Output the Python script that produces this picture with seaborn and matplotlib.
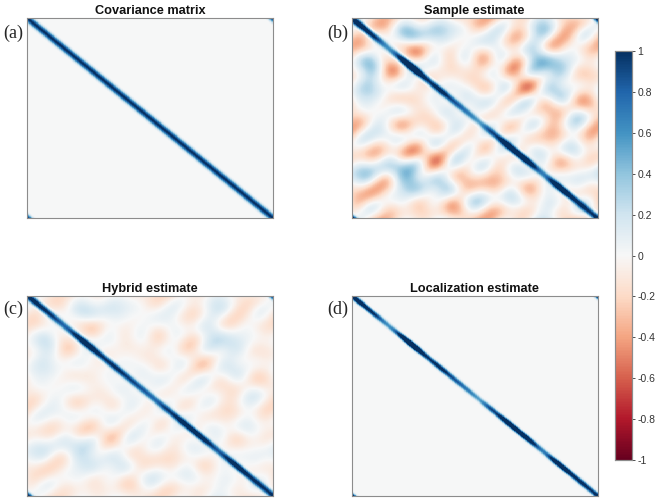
import numpy as np
import matplotlib
matplotlib.use("Agg")
import matplotlib.pyplot as plt
import seaborn as sns

sns.set_theme(style="white")
plt.rcParams['font.family'] = ['Liberation Sans', 'DejaVu Sans']
plt.rcParams['axes.unicode_minus'] = False

# --- values ------------------------------------------------------------
# correlation of the true covariance vs. lag (lag unit = 1/384 of the domain)
band_profile = [1.0, 0.99, 0.95, 0.89, 0.82, 0.72, 0.62, 0.51, 0.40,
                0.31, 0.22, 0.15, 0.10, 0.06, 0.03, 0.01, 0.0]
# localization taper vs. lag (same unit)
taper_profile = [1.0, 0.99, 0.97, 0.93, 0.88, 0.80, 0.72, 0.61, 0.50,
                 0.39, 0.28, 0.20, 0.12, 0.07, 0.03, 0.01, 0.0]
# relative amplitude of the sample variance along the diagonal (16 sections)
diag_scale = [1.15, 1.0, 0.8, 1.25, 1.15, 1.05, 0.95, 0.85,
              0.8, 1.0, 1.2, 1.15, 0.85, 1.2, 1.05, 1.0]
# sampling noise of the sample estimate, upper triangle of a 16x16 grid
noise_upper = [
    [-0.3, -0.2, 0.2, 0.05, 0.2, 0.1, -0.1, -0.3, 0.05, -0.1, 0.0, 0.3, -0.1, -0.3, 0.0],
    [0.0, 0.25, 0.2, 0.2, 0.1, 0.0, 0.1, 0.1, -0.3, 0.0, 0.15, -0.35, -0.1, 0.0],
    [-0.25, -0.35, 0.0, -0.1, 0.05, -0.1, 0.05, -0.1, 0.2, 0.0, -0.15, 0.0, -0.25],
    [0.0, 0.05, -0.15, 0.0, -0.3, 0.0, -0.35, 0.1, 0.45, 0.3, 0.05, -0.1],
    [-0.1, -0.1, -0.15, -0.1, 0.0, -0.3, 0.0, 0.1, 0.25, -0.1, -0.2],
    [0.05, 0.0, -0.2, 0.05, -0.1, -0.5, 0.1, 0.2, 0.0, -0.1],
    [0.1, 0.1, 0.0, -0.15, 0.1, -0.1, 0.15, -0.2, -0.3],
    [0.0, -0.1, 0.1, 0.0, -0.2, -0.25, 0.05, -0.1],
    [0.0, -0.2, 0.1, -0.1, -0.2, 0.2, -0.2],
    [0.05, -0.1, -0.25, -0.2, 0.0, -0.3],
    [0.0, 0.05, 0.0, 0.15, -0.1],
    [0.05, -0.3, -0.1, -0.15],
    [0.0, 0.05, 0.1],
    [0.0, -0.1],
    [0.0],
]
hybrid_weight = 0.5
titles = ["Covariance matrix", "Sample estimate", "Hybrid estimate", "Localization estimate"]
panel_tags = ["(a)", "(b)", "(c)", "(d)"]
cbar_ticks = [-1, -0.8, -0.6, -0.4, -0.2, 0, 0.2, 0.4, 0.6, 0.8, 1]

# --- build the matrices -------------------------------------------------
n_grid = len(diag_scale)
factor = 24
N = n_grid * factor


def fourier_upsample(g, f):
    g = np.asarray(g, float)
    n = g.shape[0]
    m = n * f
    pad = (m - n) // 2
    if g.ndim == 1:
        spec = np.fft.fftshift(np.fft.fft(g))
        big = np.zeros(m, complex)
        big[pad:pad + n] = spec
        out = np.fft.ifft(np.fft.ifftshift(big)).real * f
        return np.roll(out, f // 2)
    spec = np.fft.fftshift(np.fft.fft2(g))
    big = np.zeros((m, m), complex)
    big[pad:pad + n, pad:pad + n] = spec
    out = np.fft.ifft2(np.fft.ifftshift(big)).real * f * f
    return np.roll(out, (f // 2, f // 2), axis=(0, 1))


idx = np.arange(N)
d = np.abs(idx[:, None] - idx[None, :])
lag = np.minimum(d, N - d)


def from_profile(profile):
    prof = np.zeros(N)
    prof[:len(profile)] = profile
    return prof[lag]


cov = from_profile(band_profile)
taper = from_profile(taper_profile)

U = np.zeros((n_grid, n_grid))
for i, row in enumerate(noise_upper):
    U[i, i + 1:] = row
noise = fourier_upsample(U + U.T, factor)
s = fourier_upsample(diag_scale, factor)

sample = cov * s[:, None] * s[None, :] + noise
hybrid = hybrid_weight * cov + (1 - hybrid_weight) * sample
local = sample * taper
mats = [cov, sample, hybrid, local]

# --- figure -------------------------------------------------------------
W, H = 665, 503
fig = plt.figure(figsize=(W / 100, H / 100), dpi=100)
cmap = sns.color_palette("RdBu", as_cmap=True)

boxes = [(27.3, 18.3), (351.7, 18.3), (27.3, 295.7), (351.7, 295.7)]
aw, ah = 246, 200
tag_pos = [(3, 33), (327, 33), (3, 309), (327, 309)]
cax = fig.add_axes([615 / W, 1 - 460 / H, 17 / W, 409 / H])

for k, (m, (x0, y0)) in enumerate(zip(mats, boxes)):
    ax = fig.add_axes([x0 / W, 1 - (y0 + ah) / H, aw / W, ah / H])
    sns.heatmap(m, ax=ax, cmap=cmap, vmin=-1, vmax=1,
                cbar=(k == 0), cbar_ax=cax if k == 0 else None,
                xticklabels=False, yticklabels=False, rasterized=True)
    for sp in ax.spines.values():
        sp.set_visible(True)
        sp.set_color('#8c8c8c')
        sp.set_linewidth(0.8)
    ax.set_title(titles[k], fontsize=9.2, fontweight='bold', pad=3, color='#111111')
    tx, ty = tag_pos[k]
    fig.text(tx / W, 1 - ty / H, panel_tags[k], fontsize=13, va='center', ha='left',
             family=['Liberation Serif', 'DejaVu Serif'])

cax.set_yticks(cbar_ticks)
cax.set_yticklabels([f"{t:g}" for t in cbar_ticks])
cax.tick_params(axis='y', labelsize=7.5, length=2, width=0.6, pad=2,
                colors='#333333', right=True, left=False)
for sp in cax.spines.values():
    sp.set_visible(True)
    sp.set_color('#8c8c8c')
    sp.set_linewidth(0.8)

fig.savefig("out.png", dpi=100)
